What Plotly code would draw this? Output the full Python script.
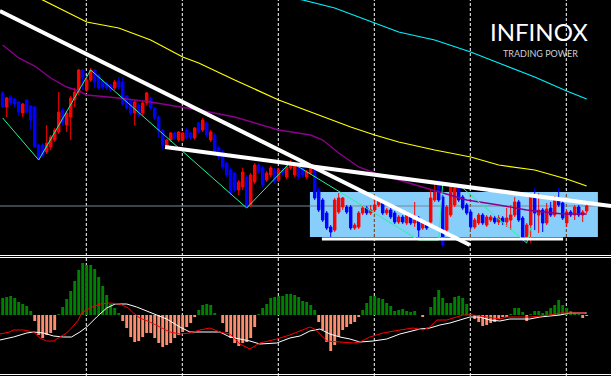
import plotly.graph_objects as go

# ---------------- price data (one candle per bar) ----------------
OPEN = [1.2907, 1.2893, 1.2903, 1.2901, 1.2898, 1.2887, 1.2900, 1.2894, 1.2893, 1.2855,
        1.2855, 1.2848, 1.2853, 1.2860, 1.2868, 1.2890, 1.2875, 1.2883, 1.2900, 1.2908,
        1.2930, 1.2910, 1.2920, 1.2930, 1.2925, 1.2919, 1.2917, 1.2915, 1.2912, 1.2919,
        1.2918, 1.2904, 1.2900, 1.2887, 1.2895, 1.2887, 1.2897, 1.2902, 1.2892, 1.2883,
        1.2870, 1.2854, 1.2860, 1.2867, 1.2860, 1.2860, 1.2870, 1.2867, 1.2862, 1.2877,
        1.2870, 1.2877, 1.2860, 1.2865, 1.2852, 1.2848, 1.2837, 1.2830, 1.2827, 1.2810,
        1.2813, 1.2823, 1.2795, 1.2818, 1.2835, 1.2832, 1.2820, 1.2825, 1.2830, 1.2820,
        1.2830, 1.2823, 1.2832, 1.2825, 1.2835, 1.2835, 1.2823, 1.2827, 1.2830, 1.2810,
        1.2800, 1.2787, 1.2773, 1.2770, 1.2788, 1.2793, 1.2793, 1.2793, 1.2772, 1.2773,
        1.2787, 1.2792, 1.2787, 1.2790, 1.2795, 1.2797, 1.2787, 1.2790, 1.2787, 1.2778,
        1.2783, 1.2777, 1.2783, 1.2777, 1.2782, 1.2772, 1.2777, 1.2778, 1.2800, 1.2818,
        1.2803, 1.2770, 1.2785, 1.2795, 1.2812, 1.2803, 1.2795, 1.2788, 1.2773, 1.2777,
        1.2785, 1.2775, 1.2780, 1.2782, 1.2778, 1.2782, 1.2778, 1.2780, 1.2785, 1.2798,
        1.2782, 1.2762, 1.2775, 1.2805, 1.2785, 1.2790, 1.2777, 1.2792, 1.2785, 1.2802,
        1.2797, 1.2777, 1.2788, 1.2785, 1.2793, 1.2785, 1.2789]
HIGH = [1.2909, 1.2903, 1.2905, 1.2902, 1.2899, 1.2897, 1.2901, 1.2895, 1.2894, 1.2856,
        1.2857, 1.2875, 1.2865, 1.2872, 1.2908, 1.2892, 1.2889, 1.2904, 1.2912, 1.2931,
        1.2931, 1.2922, 1.2932, 1.2931, 1.2926, 1.2921, 1.2918, 1.2916, 1.2920, 1.2923,
        1.2923, 1.2905, 1.2901, 1.2900, 1.2897, 1.2899, 1.2908, 1.2903, 1.2893, 1.2885,
        1.2871, 1.2861, 1.2868, 1.2868, 1.2869, 1.2868, 1.2872, 1.2868, 1.2873, 1.2878,
        1.2882, 1.2879, 1.2870, 1.2867, 1.2854, 1.2850, 1.2838, 1.2832, 1.2828, 1.2820,
        1.2832, 1.2825, 1.2827, 1.2837, 1.2837, 1.2834, 1.2829, 1.2834, 1.2832, 1.2832,
        1.2832, 1.2835, 1.2840, 1.2837, 1.2837, 1.2837, 1.2830, 1.2834, 1.2832, 1.2812,
        1.2802, 1.2789, 1.2775, 1.2802, 1.2807, 1.2803, 1.2795, 1.2795, 1.2777, 1.2789,
        1.2794, 1.2794, 1.2795, 1.2800, 1.2802, 1.2799, 1.2792, 1.2792, 1.2789, 1.2785,
        1.2785, 1.2787, 1.2785, 1.2798, 1.2784, 1.2779, 1.2779, 1.2810, 1.2817, 1.2820,
        1.2805, 1.2795, 1.2817, 1.2815, 1.2814, 1.2805, 1.2797, 1.2790, 1.2782, 1.2787,
        1.2787, 1.2785, 1.2785, 1.2784, 1.2785, 1.2784, 1.2792, 1.2795, 1.2803, 1.2800,
        1.2784, 1.2777, 1.2807, 1.2812, 1.2807, 1.2792, 1.2797, 1.2798, 1.2804, 1.2812,
        1.2799, 1.2790, 1.2790, 1.2795, 1.2795, 1.2790, 1.2796]
LOW = [1.2892, 1.2883, 1.2895, 1.2893, 1.2884, 1.2883, 1.2887, 1.2870, 1.2852, 1.2840,
       1.2843, 1.2846, 1.2850, 1.2858, 1.2866, 1.2875, 1.2868, 1.2860, 1.2893, 1.2905,
       1.2910, 1.2908, 1.2918, 1.2912, 1.2910, 1.2911, 1.2910, 1.2908, 1.2910, 1.2910,
       1.2894, 1.2890, 1.2885, 1.2875, 1.2883, 1.2885, 1.2895, 1.2890, 1.2880, 1.2862,
       1.2850, 1.2852, 1.2858, 1.2860, 1.2858, 1.2859, 1.2860, 1.2860, 1.2860, 1.2866,
       1.2868, 1.2863, 1.2858, 1.2846, 1.2840, 1.2831, 1.2823, 1.2805, 1.2808, 1.2805,
       1.2810, 1.2792, 1.2793, 1.2816, 1.2826, 1.2813, 1.2818, 1.2823, 1.2816, 1.2818,
       1.2825, 1.2821, 1.2830, 1.2823, 1.2821, 1.2823, 1.2821, 1.2825, 1.2800, 1.2788,
       1.2778, 1.2770, 1.2760, 1.2768, 1.2786, 1.2790, 1.2786, 1.2770, 1.2770, 1.2771,
       1.2785, 1.2785, 1.2785, 1.2788, 1.2793, 1.2785, 1.2785, 1.2781, 1.2776, 1.2776,
       1.2776, 1.2775, 1.2775, 1.2773, 1.2760, 1.2770, 1.2770, 1.2776, 1.2798, 1.2798,
       1.2753, 1.2768, 1.2783, 1.2793, 1.2798, 1.2790, 1.2785, 1.2771, 1.2771, 1.2775,
       1.2775, 1.2773, 1.2778, 1.2776, 1.2775, 1.2775, 1.2773, 1.2770, 1.2783, 1.2778,
       1.2758, 1.2760, 1.2757, 1.2770, 1.2767, 1.2768, 1.2775, 1.2783, 1.2783, 1.2793,
       1.2780, 1.2773, 1.2783, 1.2780, 1.2783, 1.2778, 1.2787]
CLOSE = [1.2893, 1.2902, 1.2897, 1.2896, 1.2888, 1.2896, 1.2888, 1.2880, 1.2853, 1.2842,
         1.2845, 1.2857, 1.2863, 1.2870, 1.2888, 1.2877, 1.2887, 1.2902, 1.2908, 1.2930,
         1.2922, 1.2920, 1.2930, 1.2918, 1.2912, 1.2913, 1.2912, 1.2910, 1.2918, 1.2913,
         1.2896, 1.2892, 1.2887, 1.2898, 1.2885, 1.2897, 1.2907, 1.2892, 1.2882, 1.2870,
         1.2855, 1.2860, 1.2867, 1.2862, 1.2868, 1.2867, 1.2862, 1.2862, 1.2872, 1.2868,
         1.2880, 1.2865, 1.2868, 1.2848, 1.2843, 1.2833, 1.2825, 1.2807, 1.2810, 1.2818,
         1.2828, 1.2795, 1.2825, 1.2835, 1.2828, 1.2815, 1.2827, 1.2832, 1.2818, 1.2830,
         1.2827, 1.2833, 1.2838, 1.2835, 1.2823, 1.2825, 1.2828, 1.2832, 1.2802, 1.2790,
         1.2780, 1.2772, 1.2768, 1.2800, 1.2802, 1.2802, 1.2788, 1.2772, 1.2775, 1.2787,
         1.2792, 1.2787, 1.2790, 1.2795, 1.2800, 1.2787, 1.2790, 1.2783, 1.2778, 1.2783,
         1.2778, 1.2785, 1.2777, 1.2780, 1.2770, 1.2777, 1.2772, 1.2802, 1.2808, 1.2800,
         1.2755, 1.2793, 1.2813, 1.2812, 1.2800, 1.2792, 1.2787, 1.2773, 1.2780, 1.2785,
         1.2777, 1.2783, 1.2783, 1.2778, 1.2782, 1.2778, 1.2782, 1.2785, 1.2798, 1.2780,
         1.2762, 1.2775, 1.2805, 1.2787, 1.2790, 1.2777, 1.2791, 1.2785, 1.2802, 1.2795,
         1.2782, 1.2788, 1.2785, 1.2793, 1.2785, 1.2788, 1.2794]
BARS = list(range(len(OPEN)))

# ---------------- moving averages (bar index, price) ----------------
YELLOW_X = [0, 10, 16, 21, 29, 37, 45, 49, 58, 69, 79, 87, 93, 99, 108, 117, 124, 133, 141, 146]
YELLOW_Y = [1.3020, 1.3000, 1.2988, 1.2978, 1.2972, 1.2960, 1.2943, 1.2937, 1.2920, 1.2900,
            1.2885, 1.2873, 1.2865, 1.2858, 1.2850, 1.2843, 1.2835, 1.2830, 1.2821, 1.2814]
CYAN_X = [70, 75, 83, 93, 99, 108, 117, 124, 133, 141, 146]
CYAN_Y = [1.3004, 1.3000, 1.2992, 1.2977, 1.2968, 1.2960, 1.2948, 1.2937, 1.2923, 1.2909, 1.2901]
PURPLE_X = [0, 4, 8, 12, 16, 19, 21, 24, 29, 37, 45, 49, 58, 66, 69, 77, 80, 84, 89, 93,
            99, 108, 116, 124, 131, 140, 146]
PURPLE_Y = [1.2955, 1.2942, 1.2934, 1.2922, 1.2913, 1.2909, 1.2905, 1.2904, 1.2902, 1.2898,
            1.2893, 1.2890, 1.2883, 1.2873, 1.2870, 1.2865, 1.2860, 1.2847, 1.2833, 1.2827,
            1.2820, 1.2810, 1.2800, 1.2795, 1.2790, 1.2786, 1.2786]
ZIGZAG_X = [0, 9, 22, 61, 72, 104, 109, 110, 115, 131, 132]
ZIGZAG_Y = [1.2882, 1.2840, 1.2930, 1.2792, 1.2838, 1.2760, 1.2760, 1.2817, 1.2812, 1.2757, 1.2772]

# ---------------- drawn objects ----------------
TREND1_X = [-0.7, 116.8]
TREND1_Y = [1.2989, 1.2755]
TREND2_X = [40.6, 152.1]
TREND2_Y = [1.2853, 1.2794]
SUPPORT_X = [79.8, 140.1]
SUPPORT_Y = [1.2761, 1.2761]
RANGE_BOX_X = [76.8, 148.8]
RANGE_BOX_Y = [1.2763, 1.2808]
LAST_PRICE = 1.2794
SEPARATOR_BARS = [20.9, 44.9, 68.9, 92.9, 116.9, 140.9]

# ---------------- MACD (points) ----------------
HIST = [17, 18, 19, 17, 13, 11, 9, 4, -6, -20,
        -23, -20, -18, -15, 1, 8, 16, 24, 34, 45,
        52, 50, 50, 46, 38, 29, 20, 11, 7, 2,
        -6, -13, -22, -27, -26, -22, -18, -18, -23, -28,
        -32, -30, -28, -23, -20, -17, -12, -8, -2, 5,
        10, 11, 10, 2, 0, -8, -17, -23, -28, -31,
        -28, -27, -23, -12, 1, 7, 11, 17, 18, 19,
        19, 21, 21, 20, 18, 14, 13, 10, 5, -7,
        -15, -27, -36, -30, -22, -15, -12, -9, -7, -2,
        5, 12, 19, 19, 17, 16, 12, 9, 4, 5,
        6, 4, 3, 4, 0, -2, 0, 8, 18, 25,
        17, 12, 12, 18, 19, 17, 11, 1, -4, -7,
        -11, -10, -8, -7, -4, -2, -2, 1, 7, 7,
        3, -6, 1, 4, 4, 2, 4, 7, 10, 15,
        10, 7, 4, 2, 1, -3, -1]
MAIN_X = [-0.7, 2.7, 6, 7.7, 10.2, 12.7, 15.2, 17.2, 19.3, 21, 23.5, 26, 28.1, 31, 33.5, 36,
          38.5, 41, 44.3, 46.8, 49.3, 54.3, 56.8, 59.3, 61.8, 64.3, 68.5, 71.8, 74.3, 76.8,
          79.3, 81.8, 84.3, 86.8, 89.3, 92.6, 96, 99.3, 104.3, 106.8, 109.3, 111.8, 114.3,
          116.8, 119.3, 121.8, 124.3, 126.8, 131.8, 134.3, 136.8, 139.3, 141.8, 146]
MAIN_Y = [-25, -22, -18, -17, -18, -21, -22, -22, -17, -12, -2, 7, 11, 11, 8, 4,
          0, -4, -12, -17, -17, -17, -22, -24, -26, -29, -28, -23, -21, -16,
          -14, -19, -22, -24, -27, -26, -24, -19, -14, -13, -10, -8, -5,
          -2, -2, -5, -6, -4, -4, -2, -1, 0, 2, 2]
SIGNAL_X = [-0.7, 1.8, 2.7, 5.2, 7.7, 9.3, 11, 12.7, 14.3, 16, 17.2, 18.9, 19.7, 21.8, 24.3,
            26.8, 29.3, 31.4, 32.7, 34.3, 36.8, 39.3, 41.8, 44.3, 46.8, 49.3, 51.8, 54.3,
            56.8, 59.3, 61.8, 64.3, 68.5, 71.8, 74.3, 76.8, 78, 81, 84.3, 87.6, 89.3, 91.8,
            95.1, 97.6, 99.3, 102.6, 105.1, 106.8, 108.5, 111, 113.5, 115.1, 117.6, 121,
            124.3, 126, 128.5, 131.8, 134.3, 136.8, 139.3, 141.8, 145.6]
SIGNAL_Y = [-19, -17, -15, -15, -17, -23, -26, -26, -22, -18, -13, -5, 2, 7, 11,
            12, 11, 7, 2, -3, -7, -12, -17, -19, -18, -15, -13, -17,
            -19, -29, -34, -28, -24, -20, -16, -12, -14, -26, -27, -28, -27, -22,
            -18, -16, -15, -13, -15, -12, -5, -5, -2, 0, 0, -2,
            -4, -2, -2, -2, -1, 0, 2, 2, 2]

fig = go.Figure()

fig.add_trace(go.Candlestick(
    x=BARS, open=OPEN, high=HIGH, low=LOW, close=CLOSE,
    increasing=dict(line=dict(color="#ff0000", width=1), fillcolor="#ff0000"),
    decreasing=dict(line=dict(color="#0000ff", width=1), fillcolor="#0000ff"),
    whiskerwidth=0, xaxis="x", yaxis="y", hoverinfo="skip"))

for xs, ys, col, w in [(YELLOW_X, YELLOW_Y, "#ffff00", 1.2),
                       (CYAN_X, CYAN_Y, "#00f0ff", 1.2),
                       (PURPLE_X, PURPLE_Y, "#8b008b", 1.4),
                       (ZIGZAG_X, ZIGZAG_Y, "#22f59a", 1.0)]:
    fig.add_trace(go.Scatter(x=xs, y=ys, mode="lines", line=dict(color=col, width=w),
                             xaxis="x", yaxis="y", hoverinfo="skip"))

for xs, ys, w in [(TREND1_X, TREND1_Y, 4), (TREND2_X, TREND2_Y, 4), (SUPPORT_X, SUPPORT_Y, 3)]:
    fig.add_trace(go.Scatter(x=xs, y=ys, mode="lines", line=dict(color="#ffffff", width=w),
                             xaxis="x", yaxis="y", hoverinfo="skip"))

fig.add_trace(go.Bar(x=BARS, y=HIST, width=0.72,
                     marker=dict(color=["#008000" if v >= 0 else "#fa8e6e" for v in HIST], line_width=0),
                     xaxis="x2", yaxis="y2", hoverinfo="skip"))
fig.add_trace(go.Scatter(x=MAIN_X, y=MAIN_Y, mode="lines", line=dict(color="#ffffff", width=1),
                         xaxis="x2", yaxis="y2", hoverinfo="skip"))
fig.add_trace(go.Scatter(x=SIGNAL_X, y=SIGNAL_Y, mode="lines", line=dict(color="#ff0000", width=1),
                         xaxis="x2", yaxis="y2", hoverinfo="skip"))

H = 376.0
shapes = []
for b in SEPARATOR_BARS:
    shapes.append(dict(type="line", xref="x", yref="paper", x0=b, x1=b, y0=0, y1=1,
                       line=dict(color="#ffffff", width=1, dash="3px,2px"), layer="below"))
shapes.append(dict(type="rect", xref="x", yref="y", x0=RANGE_BOX_X[0], x1=RANGE_BOX_X[1],
                   y0=RANGE_BOX_Y[0], y1=RANGE_BOX_Y[1], fillcolor="#87cefa",
                   line=dict(width=0), layer="below"))
for b in SEPARATOR_BARS:
    if RANGE_BOX_X[0] < b < RANGE_BOX_X[1]:
        shapes.append(dict(type="line", xref="x", yref="y", x0=b, x1=b,
                           y0=RANGE_BOX_Y[0], y1=RANGE_BOX_Y[1],
                           line=dict(color="#7a3208", width=1, dash="3px,2px"), layer="below"))
shapes.append(dict(type="line", xref="x", yref="y", x0=-0.675, x1=152.075, y0=LAST_PRICE, y1=LAST_PRICE,
                   line=dict(color="#778899", width=1), layer="below"))
for py in [255.5, 257.5, 374.5]:
    shapes.append(dict(type="line", xref="paper", yref="paper", x0=0, x1=1,
                       y0=1 - py / H, y1=1 - py / H, line=dict(color="#ffffff", width=1), layer="above"))

fig.update_layout(
    width=611, height=376, margin=dict(l=0, r=0, t=0, b=0, pad=0),
    paper_bgcolor="#000000", plot_bgcolor="rgba(0,0,0,0)",
    showlegend=False, boxgap=0.12, boxgroupgap=0.3,
    xaxis=dict(domain=[0, 1], range=[-0.675, 152.075], visible=False, anchor="y",
               rangeslider=dict(visible=False)),
    xaxis2=dict(domain=[0, 1], range=[-0.675, 152.075], visible=False, anchor="y2", matches="x"),
    yaxis=dict(domain=[1 - 254 / H, 1], range=[1.2746, 1.3000], visible=False),
    yaxis2=dict(domain=[1 - 374 / H, 1 - 258 / H], range=[-59, 57], visible=False),
    shapes=shapes,
    annotations=[
        dict(text="INFINOX", xref="paper", yref="paper", x=539 / 611, y=1 - 46.5 / H,
             showarrow=False, xanchor="center", yanchor="bottom", borderpad=0,
             font=dict(family="Lato", size=24, color="#ffffff", weight=400)),
        dict(text="TRADING POWER", xref="paper", yref="paper", x=540 / 611, y=1 - 46.5 / H,
             showarrow=False, xanchor="center", yanchor="top", borderpad=0,
             font=dict(family="Lato", size=9, color="#d0d0d0")),
    ],
)

fig.write_html(
    "out.html",
    config={"displayModeBar": False, "staticPlot": True},
    post_script="document.body.style.margin='0px';document.body.style.padding='0px';"
                "document.body.style.background='#000000';document.body.style.overflow='hidden';",
)
